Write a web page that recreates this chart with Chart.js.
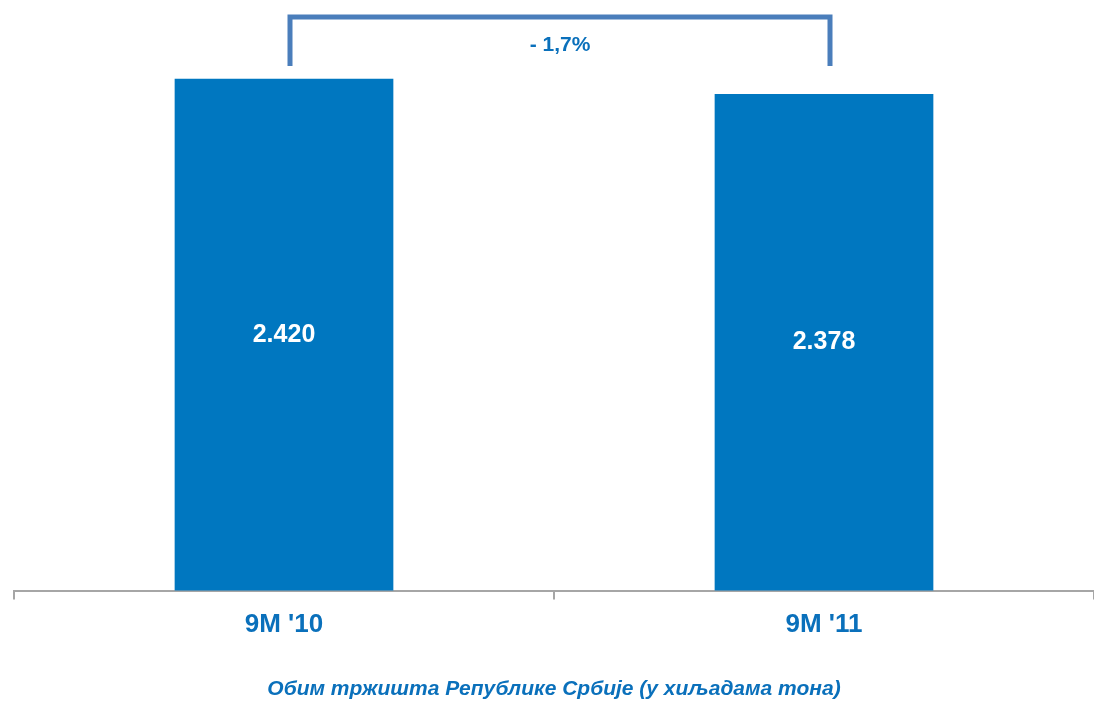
<!DOCTYPE html>
<html>
<head>
<meta charset="utf-8">
<script src="https://cdn.jsdelivr.net/npm/chart.js@4/dist/chart.umd.min.js"></script>
<style>
  html, body { margin: 0; padding: 0; background: #fff; }
  #wrap { width: 1094px; height: 702px; }
</style>
</head>
<body>
<div id="wrap"><canvas id="canvas"></canvas></div>
<script>
// values (thousand tons)
var periods = ['9M \'10', '9M \'11'];
var volumes = [2420, 2378];
var caption = 'Обим тржишта Републике Србије (у хиљадама тона)';

var BLUE = '#0077c0';
var TEXT_BLUE = '#0a70bb';
var FONT = '"Liberation Sans", Arial, sans-serif';

// 2420 -> "2.420"
function fmt(n) {
  return String(n).replace(/\B(?=(\d{3})+(?!\d))/g, '.');
}

// white numbers in the middle of the bars + bracket with change on top
var overlay = {
  id: 'overlay',
  afterDatasetsDraw: function (chart) {
    var ctx = chart.ctx;
    var area = chart.chartArea;
    var meta = chart.getDatasetMeta(0);
    ctx.save();
    ctx.fillStyle = '#fff';
    ctx.font = 'bold 25px ' + FONT;
    ctx.textAlign = 'center';
    ctx.textBaseline = 'middle';
    meta.data.forEach(function (bar, i) {
      var base = Math.min(bar.base, area.bottom);
      ctx.fillText(fmt(volumes[i]), bar.x, (bar.y + base) / 2);
    });

    // bracket
    var a = meta.data[0], b = meta.data[1];
    var top = area.top + 3;
    var bottom = area.top + 52;
    var x1 = a.x + 6, x2 = b.x + 6;
    ctx.strokeStyle = '#4a7ebb';
    ctx.lineWidth = 5;
    ctx.beginPath();
    ctx.moveTo(x1, bottom);
    ctx.lineTo(x1, top);
    ctx.lineTo(x2, top);
    ctx.lineTo(x2, bottom);
    ctx.stroke();

    var change = (volumes[1] / volumes[0] - 1) * 100;
    var txt = (change < 0 ? '- ' : '+ ') + Math.abs(change).toFixed(1).replace('.', ',') + '%';
    ctx.fillStyle = TEXT_BLUE;
    ctx.font = 'bold 21px ' + FONT;
    ctx.fillText(txt, (x1 + x2) / 2, top + 28);
    ctx.restore();
  }
};

new Chart(document.getElementById('canvas'), {
  type: 'bar',
  data: {
    labels: periods,
    datasets: [
      {
        data: volumes,
        backgroundColor: BLUE,
        borderWidth: 0,
        barPercentage: 1,
        categoryPercentage: 0.405,
      },
    ],
  },
  options: {
    responsive: true,
    maintainAspectRatio: false,
    animation: false,
    layout: {
      padding: { top: 14, left: 14, right: 0, bottom: 0 },
    },
    plugins: {
      legend: { display: false },
      tooltip: { enabled: false },
      title: {
        display: true,
        position: 'bottom',
        text: caption,
        color: TEXT_BLUE,
        font: { family: FONT, size: 21, weight: 'bold', style: 'italic' },
        padding: { top: 26, bottom: 0 },
      },
    },
    scales: {
      x: {
        offset: true,
        border: { color: '#a6a6a6', width: 2 },
        grid: {
          display: true,
          drawOnChartArea: false,
          drawTicks: true,
          tickLength: 9,
          color: '#a6a6a6',
          lineWidth: 2,
          offset: true,
        },
        ticks: {
          color: TEXT_BLUE,
          padding: 10,
          font: { family: FONT, size: 26, weight: 'bold' },
        },
      },
      y: {
        display: false,
        min: 1000, //bars don't start from zero in the original
        max: 2600,
      },
    },
  },
  plugins: [overlay],
});
</script>
</body>
</html>
